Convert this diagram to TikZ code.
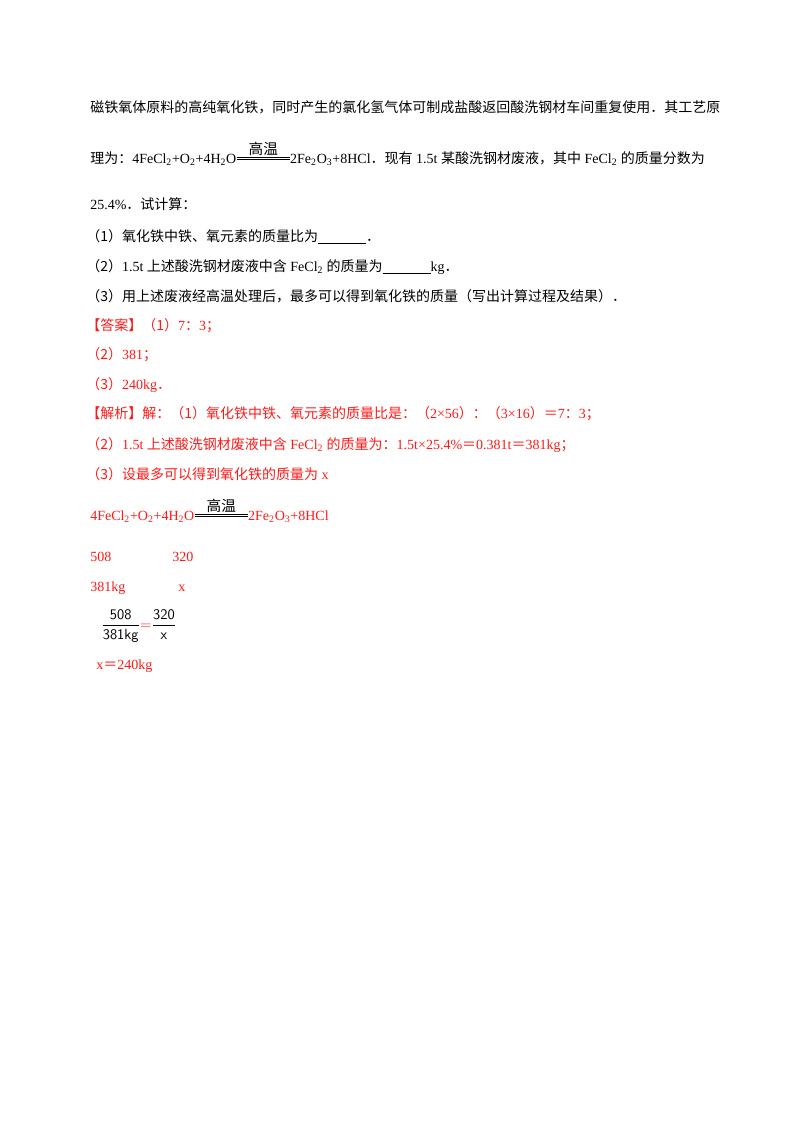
\documentclass[tikz,border=0pt]{standalone}
\usepackage{amsmath}
\usepackage{fontspec}
\setmainfont{Liberation Serif}
\newfontfamily\cjk{Noto Sans CJK SC}
\usetikzlibrary{positioning}
\newcommand{\z}[1]{{\cjk #1}}
\newcommand{\sub}[1]{\textsubscript{#1}}
\newcommand{\blank}[1]{\underline{\hspace{#1}}}
\definecolor{ansred}{HTML}{FF1A1A}
\tikzset{
  txt/.style={anchor=base west, inner sep=0pt, font=\fontsize{10.5}{12}\selectfont},
  red/.style={txt, text=ansred},
  cond/.style={font=\cjk\fontsize{11}{12}\selectfont, inner sep=1pt},
  eqline/.style={line width=0.6pt}
}
\begin{document}
\begin{tikzpicture}[x=0.75pt, y=-0.75pt]
\useasboundingbox (0,0) rectangle (800,1132);

% Question
\node[txt] (q1) at (90,112) {\z{磁铁氧体原料的高纯氧化铁，同时产生的氯化氢气体可制成盐酸返回酸洗钢材车间重复使用．其工艺原}};
\node[txt] (q2l) at (90,163) {\z{理为：}4FeCl\sub{2}+O\sub{2}+4H\sub{2}O};
\node[txt, right=40pt of q2l.base east, anchor=base west] (q2r) {2Fe\sub{2}O\sub{3}+8HCl\z{．现有} 1.5t \z{某酸洗钢材废液，其中} FeCl\sub{2} \z{的质量分数为}};
\draw[eqline] ([yshift=2.4pt]q2l.base east) -- ([yshift=2.4pt]q2r.base west);
\draw[eqline] ([yshift=4.2pt]q2l.base east) -- ([yshift=4.2pt]q2r.base west);
\path ([yshift=4.2pt]q2l.base east) -- ([yshift=4.2pt]q2r.base west) node[cond, midway, above=0pt] (c1) {高温};
\node[txt] (q3) at (90,209) {25.4\%\z{．试计算：}};
\node[txt] (s1) at (86,241) {\z{（1）氧化铁中铁、氧元素的质量比为}\textbf{\blank{36pt}}\z{．}};
\node[txt] (s2) at (86,271) {\z{（2）}1.5t \z{上述酸洗钢材废液中含} FeCl\sub{2} \z{的质量为}\textbf{\blank{36pt}}kg\z{．}};
\node[txt] (s3) at (86,301) {\z{（3）用上述废液经高温处理后，最多可以得到氧化铁的质量（写出计算过程及结果）．}};

% Answer
\node[red] (a0) at (86,330) {\z{【答案】（1）}7\z{：}3\z{；}};
\node[red] (a2) at (86,359) {\z{（2）}381\z{；}};
\node[red] (a3) at (86,389) {\z{（3）}240kg\z{．}};

% Analysis
\node[red] (j1) at (86,418) {\z{【解析】解：（1）氧化铁中铁、氧元素的质量比是：（}2×56\z{）：（}3×16\z{）＝}7\z{：}3\z{；}};
\node[red] (j2) at (86,449) {\z{（2）}1.5t \z{上述酸洗钢材废液中含} FeCl\sub{2} \z{的质量为：}1.5t×25.4\%\z{＝}0.381t\z{＝}381kg\z{；}};
\node[red] (j3) at (86,479) {\z{（3）设最多可以得到氧化铁的质量为} x};
\node[red] (e1l) at (90,520) {4FeCl\sub{2}+O\sub{2}+4H\sub{2}O};
\node[red, right=40pt of e1l.base east, anchor=base west] (e1r) {2Fe\sub{2}O\sub{3}+8HCl};
\draw[eqline] ([yshift=2.4pt]e1l.base east) -- ([yshift=2.4pt]e1r.base west);
\draw[eqline] ([yshift=4.2pt]e1l.base east) -- ([yshift=4.2pt]e1r.base west);
\path ([yshift=4.2pt]e1l.base east) -- ([yshift=4.2pt]e1r.base west) node[cond, midway, above=0pt] (c2) {高温};
\node[red] (m1) at (90,561) {508};
\node[red] (m2) at (172,561) {320};
\node[red] (k1) at (90,591) {381kg};
\node[red] (k2) at (178,591) {x};
\node[txt, anchor=west] (fr) at (101,626) {\fontsize{11}{12}\selectfont\sffamily $\dfrac{\textsf{508}}{\textsf{381kg}}\textcolor{ansred}{=}\dfrac{\textsf{320}}{\textsf{x}}$};
\node[red] (res) at (96,669) {x\z{＝}240kg};
\end{tikzpicture}
\end{document}
